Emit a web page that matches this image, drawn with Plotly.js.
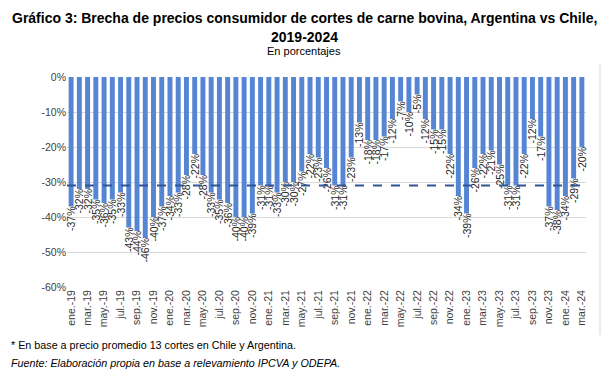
<!DOCTYPE html>
<html><head><meta charset="utf-8">
<script src="https://cdn.plot.ly/plotly-3.0.1.min.js"></script>
<style>html,body{margin:0;padding:0;background:#fff;}#chart{width:609px;height:381px;}</style>
</head><body><div id="chart"></div>
<script>
const categorias = [
 "ene.-19","feb.-19","mar.-19","abr.-19","may.-19","jun.-19","jul.-19","ago.-19","sep.-19","oct.-19","nov.-19","dic.-19",
 "ene.-20","feb.-20","mar.-20","abr.-20","may.-20","jun.-20","jul.-20","ago.-20","sep.-20","oct.-20","nov.-20","dic.-20",
 "ene.-21","feb.-21","mar.-21","abr.-21","may.-21","jun.-21","jul.-21","ago.-21","sep.-21","oct.-21","nov.-21","dic.-21",
 "ene.-22","feb.-22","mar.-22","abr.-22","may.-22","jun.-22","jul.-22","ago.-22","sep.-22","oct.-22","nov.-22","dic.-22",
 "ene.-23","feb.-23","mar.-23","abr.-23","may.-23","jun.-23","jul.-23","ago.-23","sep.-23","oct.-23","nov.-23","dic.-23",
 "ene.-24","feb.-24","mar.-24"];
const brecha = [
 -37,-32,-32,-35,-36,-35,-33,-43,-44,-46,-40,-37,
 -34,-33,-28,-22,-28,-33,-35,-36,-40,-40,-39,-31,
 -31,-33,-30,-30,-27,-22,-23,-26,-31,-31,-23,-13,
 -18,-18,-17,-12,-7,-10,-5,-12,-15,-15,-22,-34,
 -39,-26,-22,-21,-25,-31,-31,-22,-12,-17,-37,-38,
 -34,-29,-20];
const promedio = -31;
const yTicks = [0,-10,-20,-30,-40,-50,-60];
const yTickText = ["0%","-10%","-20%","-30%","-40%","-50%","-60%"];
const xTicks = categorias.filter((c,i)=>i%2===0);

const font = "Liberation Sans, Arial, sans-serif";
const trace = {
  type:'bar', x:categorias, y:brecha,
  marker:{color:'#5585D3'},
  text: brecha.map(v=>v+'%'), textposition:'outside', textangle:-90,
  constraintext:'none', cliponaxis:false,
  textfont:{family:font,size:10.5,color:'#262626'},
  hoverinfo:'x+y'
};
const L=67, R=586, T=77, B=287;
const layout = {
  width:609, height:381,
  margin:{l:L, r:609-R, t:T, b:381-B},
  paper_bgcolor:'#fff', plot_bgcolor:'#fff',
  showlegend:false, bargap:0.4,
  xaxis:{type:'category', tickmode:'array', tickvals:xTicks, ticktext:xTicks, tickangle:-90,
    tickfont:{family:font,size:10.5,color:'#404040'}, showgrid:false, zeroline:false, showline:false, ticks:'', ticklen:0},
  yaxis:{range:[-60,0], tickmode:'array', tickvals:yTicks, ticktext:yTickText,
    tickfont:{family:font,size:10.5,color:'#404040'}, gridcolor:'#d9d9d9', gridwidth:1, zeroline:false, showline:false, ticks:''},
  shapes:[
    {type:'line', xref:'paper', yref:'y', x0:0, x1:1, y0:promedio, y1:promedio, line:{color:'#2F5597', width:2, dash:'dash'}},
    {type:'line', xref:'paper', yref:'paper', x0:(600-L)/(R-L), x1:(600-L)/(R-L), y0:(B-335)/(B-T), y1:(B-64)/(B-T), line:{color:'#d9d9d9', width:1}}
  ],
  annotations:[
    {xref:'paper', yref:'paper', x:(304-L)/(R-L), y:(B-18)/(B-T), xanchor:'center', yanchor:'middle', showarrow:false,
     text:'<b>Gráfico 3: Brecha de precios consumidor de cortes de carne bovina, Argentina vs Chile,</b>', font:{family:font,size:14,color:'#000'}},
    {xref:'paper', yref:'paper', x:(304-L)/(R-L), y:(B-37)/(B-T), xanchor:'center', yanchor:'middle', showarrow:false,
     text:'<b>2019-2024</b>', font:{family:font,size:14,color:'#000'}},
    {xref:'paper', yref:'paper', x:(304-L)/(R-L), y:(B-51)/(B-T), xanchor:'center', yanchor:'middle', showarrow:false,
     text:'En porcentajes', font:{family:font,size:11,color:'#000'}},
    {xref:'paper', yref:'paper', x:(9-L)/(R-L), y:(B-345)/(B-T), xanchor:'left', yanchor:'middle', showarrow:false,
     text:'* En base a precio promedio 13 cortes en Chile y Argentina.', font:{family:font,size:10.75,color:'#000'}},
    {xref:'paper', yref:'paper', x:(9-L)/(R-L), y:(B-363)/(B-T), xanchor:'left', yanchor:'middle', showarrow:false,
     text:'<i>Fuente: Elaboración propia en base a relevamiento IPCVA y ODEPA.</i>', font:{family:font,size:10.75,color:'#000'}}
  ]
};
Plotly.newPlot('chart',[trace],layout,{staticPlot:true});
</script></body></html>
